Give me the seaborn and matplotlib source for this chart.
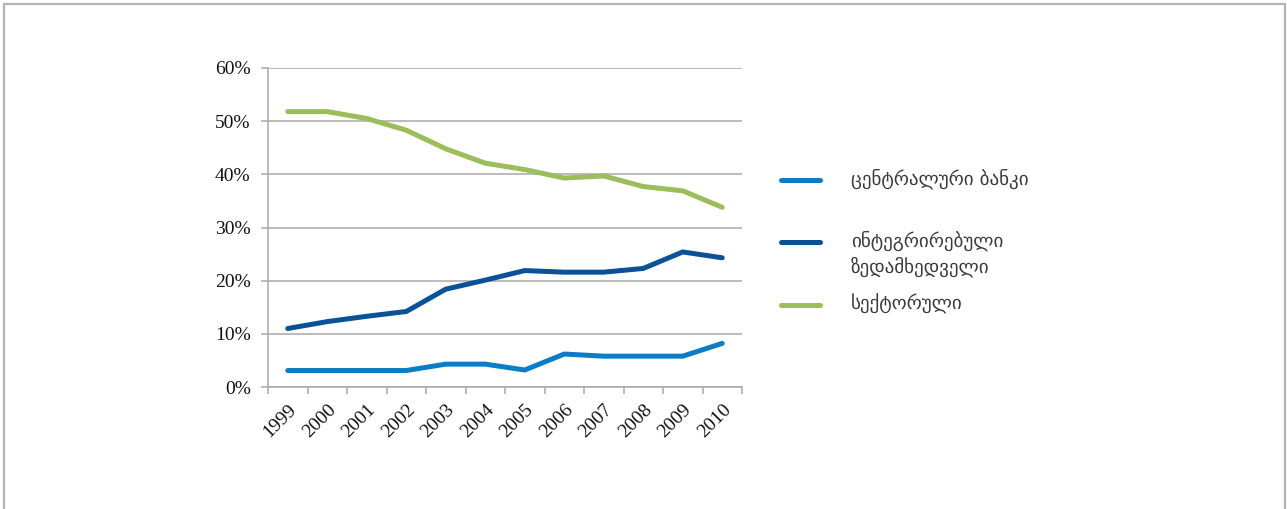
import numpy as np
import pandas as pd
import seaborn as sns
import matplotlib
matplotlib.use("Agg")
import matplotlib.pyplot as plt
from matplotlib.lines import Line2D
from matplotlib.patches import Rectangle
from matplotlib.ticker import PercentFormatter

# Share of supervisory model by year (%)
years = ["1999", "2000", "2001", "2002", "2003", "2004",
         "2005", "2006", "2007", "2008", "2009", "2010"]
central_bank = [3.1, 3.1, 3.1, 3.1, 4.3, 4.3, 3.2, 6.2, 5.8, 5.8, 5.8, 8.2]
integrated = [11.0, 12.3, 13.3, 14.2, 18.4, 20.1, 21.9, 21.6, 21.6, 22.3, 25.4, 24.3]
sectoral = [51.8, 51.8, 50.5, 48.3, 44.8, 42.1, 40.9, 39.3, 39.7, 37.7, 36.9, 33.8]
series_names = ["ცენტრალური ბანკი", "ინტეგრირებული\nზედამხედველი", "სექტორული"]
y_ticks = [0, 10, 20, 30, 40, 50, 60]

colors = ["#0b7dc6", "#0a5197", "#9bbd5a"]

df = pd.concat([
    pd.DataFrame({"year": years, "share": vals, "series": name})
    for name, vals in zip(series_names, [central_bank, integrated, sectoral])
])

sns.set_theme(style="white")
plt.rcParams["font.family"] = ["Liberation Serif", "DejaVu Serif"]

W, H = 1287, 509
fig = plt.figure(figsize=(W / 100, H / 100), dpi=100)
ax = fig.add_axes([268 / W, 1 - 387 / H, (742 - 268) / W, (387 - 68) / H])

sns.lineplot(data=df, x="year", y="share", hue="series", hue_order=series_names,
             palette=colors, linewidth=3.6, legend=False, sort=False, ax=ax,
             solid_capstyle="round")

grid_c = "#a8a8a8"
tick_fs = 14
ax.set_xlim(-0.5, len(years) - 0.5)
ax.set_ylim(0, 60)
ax.set_yticks(y_ticks)
ax.yaxis.set_major_formatter(PercentFormatter(decimals=0))
ax.yaxis.grid(True, color=grid_c, linewidth=1.1)
ax.xaxis.grid(False)
ax.set_axisbelow(True)

ax.set_xticks(range(len(years)))
ax.set_xticklabels(years)
ax.set_xticks(np.arange(-0.5, len(years), 1), minor=True)
ax.tick_params(axis="x", which="major", length=0, pad=10)
ax.tick_params(axis="x", which="minor", length=5, width=1.1, color=grid_c,
               direction="out", bottom=True)
ax.tick_params(axis="y", length=5, width=1.1, color=grid_c, direction="out",
               left=True, pad=7.5, labelsize=tick_fs, labelcolor="#111111")
for lab in ax.get_xticklabels():
    lab.set_rotation(45)
    lab.set_ha("right")
    lab.set_va("top")
    lab.set_rotation_mode("anchor")
    lab.set_fontsize(tick_fs)
    lab.set_color("#111111")

for side in ["top", "right"]:
    ax.spines[side].set_visible(False)
for side in ["left", "bottom"]:
    ax.spines[side].set_color(grid_c)
    ax.spines[side].set_linewidth(1.1)
ax.set_xlabel("")
ax.set_ylabel("")

# Legend drawn at the right of the plot area
legend_rows = [180, 242, 305]
for name, color, yy in zip(series_names, colors, legend_rows):
    yf = 1 - yy / H
    fig.add_artist(Line2D([781 / W, 820 / W], [yf, yf], color=color, lw=3.6,
                          solid_capstyle="round", transform=fig.transFigure))
    fig.text(851 / W, 1 - (yy - 11) / H, name, family=["DejaVu Sans"],
             fontsize=13.7, color="#3a3a3a", va="top", ha="left",
             linespacing=1.3)

# Outer frame
fig.add_artist(Rectangle((3.5 / W, -0.1), (1285 - 3.5) / W, 1.1 - 4.5 / H,
                         transform=fig.transFigure, fill=False,
                         edgecolor="#b4b4b4", lw=1.6, clip_on=False))

fig.savefig("out.png", dpi=100)
